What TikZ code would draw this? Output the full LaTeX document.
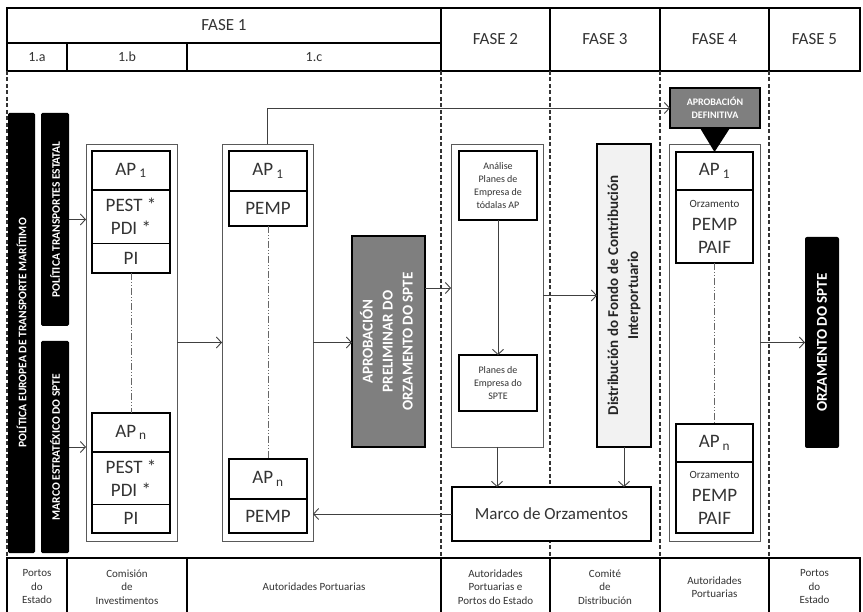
\documentclass[tikz,border=0pt]{standalone}
\usepackage{fontspec}
\setmainfont{Carlito}
\usetikzlibrary{arrows.meta}
\definecolor{gristexte}{HTML}{333333}
\definecolor{grisfonce}{HTML}{7F7F7F}
\definecolor{grisclair}{HTML}{F2F2F2}
\tikzset{
	taille/.style 2 args={minimum width=#1,minimum height=#2},
	cellule/.style={draw,line width=1.6pt,fill=white,inner sep=0pt,outer sep=0pt,text=gristexte,align=center},
	entete/.style={cellule,font=\fontsize{17}{19}\selectfont},
	sousentete/.style={cellule,font=\fontsize{14}{16}\selectfont},
	pied/.style={cellule,font=\fontsize{11}{13.5}\selectfont},
	groupe/.style={draw=black!65,line width=0.9pt,inner sep=0pt,outer sep=0pt},
	ligne/.style={draw,line width=0.9pt,fill=white,inner sep=0pt,outer sep=0pt,text=gristexte,align=center,font=\fontsize{19}{23}\selectfont},
	cadre/.style={line width=2.4pt},
	boite/.style={draw,line width=2.4pt,fill=white,inner sep=0pt,outer sep=0pt,text=gristexte,align=center},
	barre/.style={fill=black,rounded corners=1.5pt,inner sep=0pt,outer sep=0pt,text=white,font=\fontsize{11.5}{13}\selectfont\bfseries},
	fleche/.style={draw=black!75,line width=0.9pt,-{Straight Barb[length=5pt,width=11pt]}},
	sep/.style={black!80,line width=1.3pt,dash pattern=on 4pt off 2.5pt},
	pointille/.style={black!60,line width=0.9pt,dash pattern=on 7pt off 2pt on 1pt off 2pt on 1pt off 2pt},
}
\newcommand{\ap}[1]{AP\,\textsubscript{#1}}
\begin{document}
\begin{tikzpicture}[x=1pt,y=-1pt]
	\useasboundingbox (0,0) rectangle (863,612);
%	Tracé de l'en-tête :
	\node[entete,taille={434}{35}] (fase1) at (224,25.5) {FASE 1};
	\node[sousentete,taille={60}{28}] (sa) at (37,57) {1.a};
	\node[sousentete,taille={120}{28}] (sb) at (127,57) {1.b};
	\node[sousentete,taille={254}{28}] (sc) at (314,57) {1.c};
	\node[entete,taille={109}{63}] (fase2) at (495.5,39.5) {FASE 2};
	\node[entete,taille={110}{63}] (fase3) at (605,39.5) {FASE 3};
	\node[entete,taille={109}{63}] (fase4) at (714.5,39.5) {FASE 4};
	\node[entete,taille={91}{63}] (fase5) at (814.5,39.5) {FASE 5};
%	Tracé du pied :
	\node[pied,taille={60}{58}] (pa) at (37,587) {Portos\\do\\Estado};
	\node[pied,taille={120}{58}] (cb) at (127,587) {Comisión\\de\\Investimentos};
	\node[pied,taille={254}{58}] (apa) at (314,587) {Autoridades Portuarias};
	\node[pied,taille={109}{58}] (ape) at (495.5,587) {Autoridades\\Portuarias e\\Portos do Estado};
	\node[pied,taille={110}{58}] (cd) at (605,587) {Comité\\de\\Distribución};
	\node[pied,taille={109}{58}] (apb) at (714.5,587) {Autoridades\\Portuarias};
	\node[pied,taille={91}{58}] (pe) at (814.5,587) {Portos\\do\\Estado};
%	Tracé des séparations :
	\draw[sep] (sa.south west) -- (pa.north west);
	\draw[sep] (fase2.south west) -- (ape.north west);
	\draw[sep] (fase3.south west) -- (cd.north west);
	\draw[sep] (fase4.south west) -- (apb.north west);
	\draw[sep] (fase5.south west) -- (pe.north west);
%	Phase 1.a :
	\node[barre,taille={27}{440}] (pete) at (21.5,333) {\rotatebox{90}{POLÍTICA EUROPEA DE TRANSPORTE MARÍTIMO}};
	\node[barre,taille={28}{213}] (pte) at (55,219.5) {\rotatebox{90}{POLÍTICA TRANSPORTES ESTATAL}};
	\node[barre,taille={28}{212}] (mee) at (55,447) {\rotatebox{90}{MARCO ESTRATÉXICO DO SPTE}};
%	Phase 1.b :
	\node[groupe,taille={91}{397}] (gb) at (131.5,342.5) {};
	\node[ligne,taille={78}{39}] (bpap) at (131,170.5) {\ap{1}};
	\node[ligne,taille={78}{53}] (bppe) at (131,216.5) {PEST *\\PDI *};
	\node[ligne,taille={78}{30}] (bppi) at (131,258) {PI};
	\draw[cadre] (bpap.north west) rectangle (bppi.south east);
	\draw[cadre] (bpap.south west) -- (bpap.south east);
	\node[ligne,taille={78}{39}] (bnap) at (131,432.5) {\ap{n}};
	\node[ligne,taille={78}{52}] (bnpe) at (131,478) {PEST *\\PDI *};
	\node[ligne,taille={78}{29}] (bnpi) at (131,518.5) {PI};
	\draw[cadre] (bnap.north west) rectangle (bnpi.south east);
	\draw[cadre] (bnap.south west) -- (bnap.south east);
	\draw[pointille] (bppi.south) -- (bnap.north);
%	Phase 1.c :
	\node[groupe,taille={91}{397}] (gc) at (267.5,342.5) {};
	\node[ligne,taille={78}{40}] (cpap) at (268,171) {\ap{1}};
	\node[ligne,taille={78}{35}] (cppe) at (268,208.5) {PEMP};
	\draw[cadre] (cpap.north west) rectangle (cppe.south east);
	\draw[cadre] (cpap.south west) -- (cpap.south east);
	\node[ligne,taille={78}{40}] (cnap) at (268,479) {\ap{n}};
	\node[ligne,taille={78}{34}] (cnpe) at (268,516) {PEMP};
	\draw[cadre] (cnap.north west) rectangle (cnpe.south east);
	\draw[cadre] (cnap.south west) -- (cnap.south east);
	\draw[pointille] (cppe.south) -- (cnap.north);
	\node[boite,fill=grisfonce,text=white,taille={73}{211},font=\fontsize{15}{20}\selectfont\bfseries] (aprel) at (388.5,341.5)
		{\rotatebox{90}{\begin{tabular}{@{}c@{}}APROBACIÓN\\PRELIMINAR DO\\ORZAMENTO DO SPTE\end{tabular}}};
%	Phase 2 :
	\node[groupe,taille={92}{303}] (gd) at (497,295.5) {};
	\node[boite,taille={78}{69},font=\fontsize{10}{13}\selectfont] (anl) at (498,185.5) {Análise\\Planes de\\Empresa de\\tódalas AP};
	\node[boite,taille={78}{56},font=\fontsize{10}{13}\selectfont] (pes) at (498,383) {Planes de\\Empresa do\\SPTE};
	\node[boite,taille={199}{54},font=\fontsize{17}{20}\selectfont] (marco) at (551.5,514) {Marco de Orzamentos};
%	Phase 3 :
	\node[boite,fill=grisclair,text=black!85,taille={54}{303},font=\fontsize{15}{20}\selectfont\bfseries] (dist) at (624,295.5)
		{\rotatebox{90}{\begin{tabular}{@{}c@{}}Distribución do Fondo de Contribución\\Interportuario\end{tabular}}};
%	Phase 4 :
	\node[groupe,taille={91}{397}] (ge) at (714.5,342.5) {};
	\node[boite,fill=grisfonce,text=white,taille={90}{40},font=\fontsize{10}{12.5}\selectfont\bfseries] (apdef) at (715,108) {APROBACIÓN\\DEFINITIVA};
	\node[ligne,taille={77}{38}] (dpap) at (714.5,171) {\ap{1}};
	\node[ligne,taille={77}{73}] (dpor) at (714.5,226.5) {{\fontsize{11}{13}\selectfont Orzamento}\\PEMP\\PAIF};
	\draw[cadre] (dpap.north west) rectangle (dpor.south east);
	\draw[cadre] (dpap.south west) -- (dpap.south east);
	\node[ligne,taille={77}{38}] (dnap) at (714.5,443) {\ap{n}};
	\node[ligne,taille={77}{71}] (dnor) at (714.5,497.5) {{\fontsize{11}{13}\selectfont Orzamento}\\PEMP\\PAIF};
	\draw[cadre] (dnap.north west) rectangle (dnor.south east);
	\draw[cadre] (dnap.south west) -- (dnap.south east);
	\draw[pointille] (dpor.south) -- (dnap.north);
	\fill[black] ([xshift=-15pt]apdef.south) -- ([xshift=15pt]apdef.south) -- (dpap.north) -- cycle;
%	Phase 5 :
	\node[barre,rounded corners=2pt,taille={34}{211},font=\fontsize{15}{18}\selectfont\bfseries] (ozs) at (822,342.5) {\rotatebox{90}{ORZAMENTO DO SPTE}};
%	Tracé des flèches :
	\draw[fleche] (pte.east) -- (pte.east -| gb.west);
	\draw[fleche] (mee.east) -- (mee.east -| gb.west);
	\draw[fleche] (gb.east) -- (gc.west);
	\draw[fleche] (gc.east) -- (gc.east -| aprel.west);
	\draw[fleche] ([yshift=53.5pt]aprel.east) -- ([yshift=53.5pt]aprel.east -| gd.west);
	\draw[fleche] (anl.south) -- (pes.north);
	\draw[fleche] (gd.east) -- (dist.west);
	\draw[fleche] (gd.south) -- (gd.south |- marco.north);
	\draw[fleche] (dist.south) -- (dist.south |- marco.north);
	\draw[fleche] (marco.west) -- (marco.west -| gc.east);
	\draw[fleche] (gc.north) |- (apdef.west);
	\draw[fleche] (ge.east) -- (ozs.west);
\end{tikzpicture}
\end{document}
